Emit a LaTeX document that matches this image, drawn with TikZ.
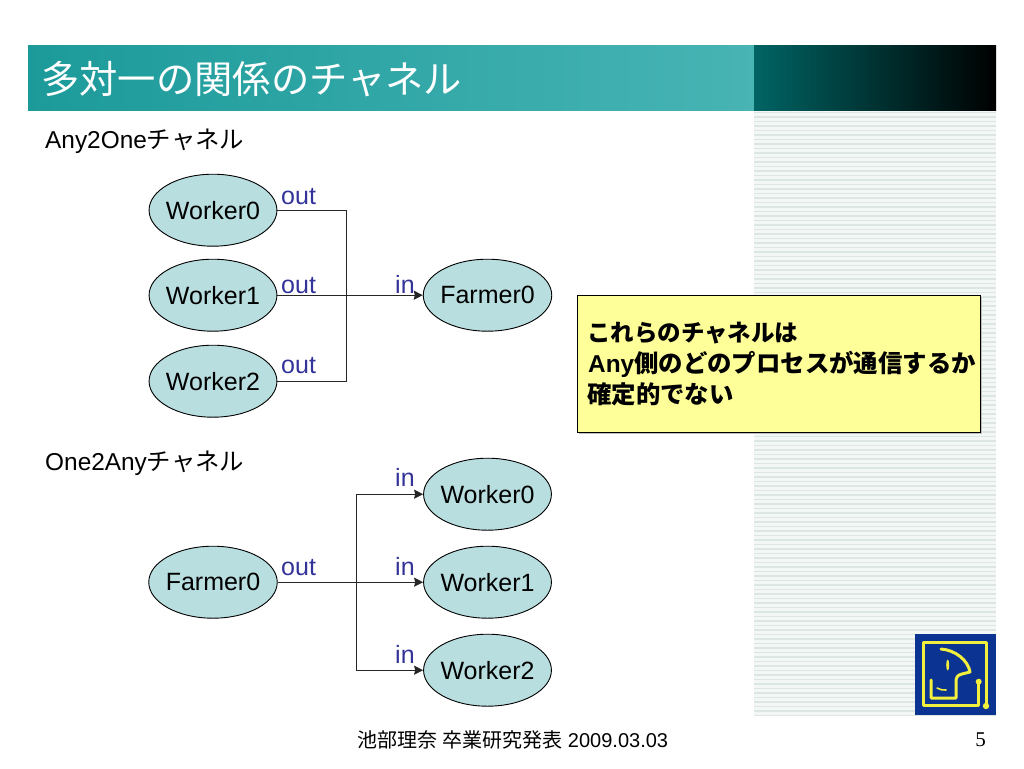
\documentclass[tikz,border=0pt]{standalone}
\usepackage{fontspec}
\setmainfont{Liberation Sans}
\newfontfamily\cjk{Noto Sans CJK JP}
\newfontfamily\serifnum{Liberation Serif}
\usetikzlibrary{shapes.geometric,arrows.meta}
\definecolor{ellfill}{HTML}{B8DEE0}
\definecolor{lab}{HTML}{333399}
\definecolor{stripe}{HTML}{DDE7E2}
\definecolor{stripebg}{HTML}{F3F7F5}
\definecolor{logoblue}{HTML}{0B3391}
\definecolor{logoyel}{HTML}{F2F03C}
\definecolor{noteyel}{HTML}{FFFF99}
\definecolor{barL}{HTML}{1C9A9A}
\definecolor{barR}{HTML}{48B4B4}
\definecolor{darkL}{HTML}{006464}
\tikzset{
  proc/.style={ellipse,draw=black,line width=0.9pt,fill=ellfill,inner xsep=-1.8pt,inner ysep=0pt,minimum height=72pt,font=\fontsize{25}{25}\selectfont,text=black},
  lbl/.style={font=\fontsize{25}{25}\selectfont,text=lab,inner sep=0pt,anchor=base west},
  wire/.style={draw=black!85,line width=1pt},
  arr/.style={wire,-{Stealth[length=9pt,width=9pt,inset=1pt]}},
  arrbold/.style={arr,line width=1.4pt},
  head/.style={font=\fontsize{24.4}{24.4}\selectfont,inner sep=0pt,anchor=base west},
  notetxt/.style={anchor=base west,inner sep=0pt,font=\bfseries\fontsize{24.4}{24.4}\selectfont},
  logoln/.style={draw=logoyel,line width=3pt,line cap=round,line join=round}
}
\begin{document}
\begin{tikzpicture}[x=1pt,y=-1pt]
\useasboundingbox[fill=white] (0,0) rectangle (1024,768);
% stripes
\fill[stripebg] (754,110) rectangle (996,715);
\foreach \i in {0,...,134}{
  \fill[stripe] (754,{111.5+4.5*\i}) rectangle (996,{113.2+4.5*\i});
}
% title bar
\shade[left color=barL,right color=barR] (28,45.5) rectangle (754,110);
\shade[left color=darkL,right color=black] (754,45.5) rectangle (996,110);
\node[anchor=base west,inner sep=0pt,text=white,font=\cjk\fontsize{38.3}{38.3}\selectfont] (title) at (41,93.5) {多対一の関係のチャネル};
% headings
\node[head] (h1) at (45,148.5) {Any2One{\cjk チャネル}};
\node[head] (h2) at (45,470.5) {One2Any{\cjk チャネル}};
% upper nodes
\node[proc] (aw0) at (213,210.2) {Worker0};
\node[proc] (aw1) at (213,295.2) {Worker1};
\node[proc] (aw2) at (213,381.2) {Worker2};
\node[proc] (af) at (487.5,295.2) {Farmer0};
\coordinate (atr) at (346,295);
\draw[wire] (aw0.east) -| (atr);
\draw[wire] (aw2.east) -| (atr);
\draw[arrbold] (aw1.east) -- (af.west);
\node[lbl] (lo0) at (281,204.5) {out};
\node[lbl] (lo1) at (281,293.5) {out};
\node[lbl] (lo2) at (281,373.5) {out};
\node[lbl] (li0) at (395,293.5) {in};
% lower nodes
\node[proc] (bf) at (213,582.2) {Farmer0};
\node[proc] (bw0) at (487.5,494.2) {Worker0};
\node[proc] (bw1) at (487.5,582.2) {Worker1};
\node[proc] (bw2) at (487.5,670.2) {Worker2};
\coordinate (btr) at (356,582);
\draw[arr] (btr) |- (bw0.west);
\draw[arr] (btr) |- (bw2.west);
\draw[arrbold] (bf.east) -- (bw1.west);
\node[lbl] (mo) at (281,575.5) {out};
\node[lbl] (mi0) at (395,486.5) {in};
\node[lbl] (mi1) at (395,575.5) {in};
\node[lbl] (mi2) at (395,663.5) {in};
% note
\fill[black!25] (578.5,296.5) rectangle (981.5,433.5);
\node[draw=black,line width=0.9pt,fill=noteyel,minimum width=402.5pt,minimum height=137pt,inner sep=0pt,anchor=north west] (note) at (577,295) {};
\node[notetxt,font=\bfseries\fontsize{23.5}{23.5}\selectfont] (n1) at (587,341) {\cjk\bfseries これらのチャネルは};
\node[notetxt] (n2) at (588,372.5) {Any{\cjk\bfseries 側のどのプロセスが通信するか}};
\node[notetxt] (n3) at (587,403.5) {\cjk\bfseries 確定的でない};
% footer
\node[anchor=base,inner sep=0pt,font=\fontsize{20}{20}\selectfont] (foot) at (513,747.5) {{\cjk 池部理奈 卒業研究発表} 2009.03.03};
\node[anchor=base east,inner sep=0pt,font=\serifnum\fontsize{21}{21}\selectfont] (pg) at (986,746.5) {5};
% logo
\fill[logoblue] (915,634) rectangle (996,715);
\draw[logoln] (978.7,681.7) -- (978.7,705) -- (923,705) -- (923,642) -- (986,642) -- (986,706);
\fill[logoyel] (978.7,681.7) circle (3);
\fill[logoyel] (986,706) circle (3.2);
\draw[logoln] (941,649) .. controls (955,650) and (968,660) .. (970,672) -- (962,674) .. controls (957,675) and (956,678) .. (956,682) -- (956,698) -- (931,698) -- (931,680);
\fill[logoyel] (947.7,665) ellipse (1.5 and 5.5);
\draw[draw=logoyel,line width=1.6pt,line cap=round] (937,688) .. controls (940,690) and (943,690) .. (946,690);
\end{tikzpicture}
\end{document}
